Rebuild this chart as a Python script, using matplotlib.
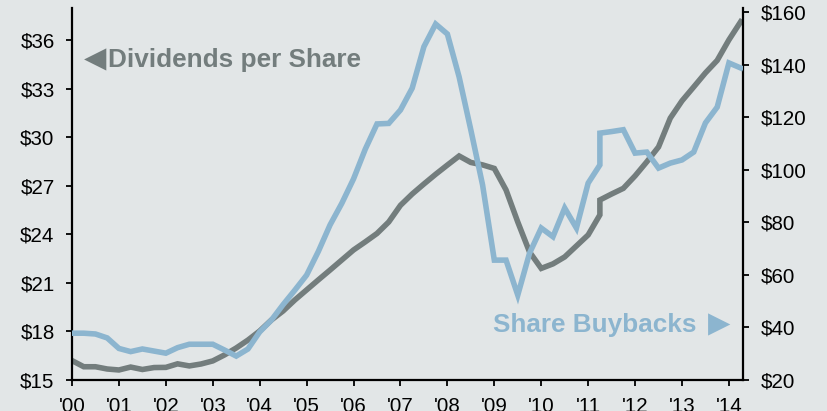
import pandas as pd
import matplotlib
matplotlib.use('Agg')
import matplotlib.pyplot as plt

# Quarterly data, 2000Q1 - 2014Q2 (2011Q2 appears twice: series break)
dividends = [16.2, 15.82, 15.82, 15.68, 15.62, 15.8, 15.65, 15.77, 15.78, 16.0, 15.87, 15.99, 16.18, 16.55, 16.98, 17.47,
             18.03, 18.71, 19.27, 19.95, 20.57, 21.19, 21.8, 22.42, 23.04, 23.54, 24.06, 24.77,
             25.8, 26.5, 27.12, 27.72, 28.29, 28.85, 28.45, 28.3, 28.08, 26.75, 24.77, 22.92, 21.9, 22.18, 22.61, 23.29, 23.97, 25.21,
             26.13,
             26.5, 26.85, 27.62, 28.49, 29.41, 31.19, 32.26, 33.12, 33.99, 34.76, 36.03, 37.15]
buybacks = [37.8, 37.8, 37.5, 36.0, 32.0, 30.8, 31.8, 31.0, 30.2, 32.3, 33.6, 33.6, 33.6, 31.4, 29.1, 31.8,
            38.3, 42.8, 48.7, 54.2, 59.9, 68.9, 79.0, 87.2, 96.5, 107.8, 117.4, 117.6,
            122.7, 131.0, 146.8, 155.4, 151.6, 135.3, 115.1, 94.2, 65.6, 65.6, 52.3, 68.2, 77.8, 74.5, 85.4, 77.8, 94.9, 101.8,
            113.9,
            114.5, 115.2, 106.3, 106.7, 100.6, 102.5, 103.7, 106.7, 117.8, 123.8, 140.6, 138.7]
left_ticks = [15, 18, 21, 24, 27, 30, 33, 36]
right_ticks = [20, 40, 60, 80, 100, 120, 140, 160]
year_ticks = list(range(2000, 2015))

dates = list(pd.period_range('2000Q1', '2014Q2', freq='Q'))
dates.insert(46, dates[45])
x = [d.year + (d.quarter - 1) / 4 for d in dates]

BG = '#e2e6e7'
GRAY = '#737d7d'
BLUE = '#8cb5cf'

plt.rcParams['font.family'] = ['Liberation Sans', 'DejaVu Sans']

fig = plt.figure(figsize=(8.27, 4.11), dpi=100)
fig.patch.set_facecolor(BG)
ax = fig.add_axes([72 / 827, 1 - 380 / 411, 671 / 827, 372 / 411])
ax.set_facecolor(BG)
ax2 = ax.twinx()

ax.plot(x, dividends, color=GRAY, lw=4, solid_joinstyle='miter', zorder=2)
ax2.plot(x, buybacks, color=BLUE, lw=4, solid_joinstyle='miter', zorder=3)

ax.set_xlim(2000, x[-1] + 0.05)
ax.set_ylim(15, 38)
ax2.set_ylim(20, 161.5)

ax.set_xticks(year_ticks)
ax.set_xticklabels(["'%02d" % (y % 100) for y in year_ticks])
ax.set_yticks(left_ticks)
ax.set_yticklabels(['$%d' % v for v in left_ticks])
ax2.set_yticks(right_ticks)
ax2.set_yticklabels(['$%d' % v for v in right_ticks])

for a in (ax, ax2):
    a.spines['top'].set_visible(False)
    for s in a.spines.values():
        s.set_linewidth(1.6)
    a.tick_params(length=4.5, width=1.3, labelsize=14.8, pad=8, colors='black')
ax2.spines['left'].set_visible(False)
ax2.spines['bottom'].set_visible(False)
ax.spines['right'].set_visible(False)
ax.tick_params(axis='x', pad=7.5)

# series labels with pointer arrows
ax.text(0.0507, 0.862, '\u25c0', transform=ax.transAxes, color=GRAY,
        fontsize=21, ha='right', va='center', family='DejaVu Sans')
ax.text(0.0537, 0.86, 'Dividends per Share', transform=ax.transAxes, color=GRAY,
        fontsize=18.8, fontweight='bold', ha='left', va='center')
ax2.text(0.9314, 0.148, 'Share Buybacks', transform=ax.transAxes, color=BLUE,
         fontsize=18.8, fontweight='bold', ha='right', va='center', zorder=5)
ax2.text(0.9478, 0.15, '\u25b6', transform=ax.transAxes, color=BLUE,
         fontsize=21, ha='left', va='center', family='DejaVu Sans', zorder=5)

fig.savefig('out.png', dpi=100, facecolor=BG)
